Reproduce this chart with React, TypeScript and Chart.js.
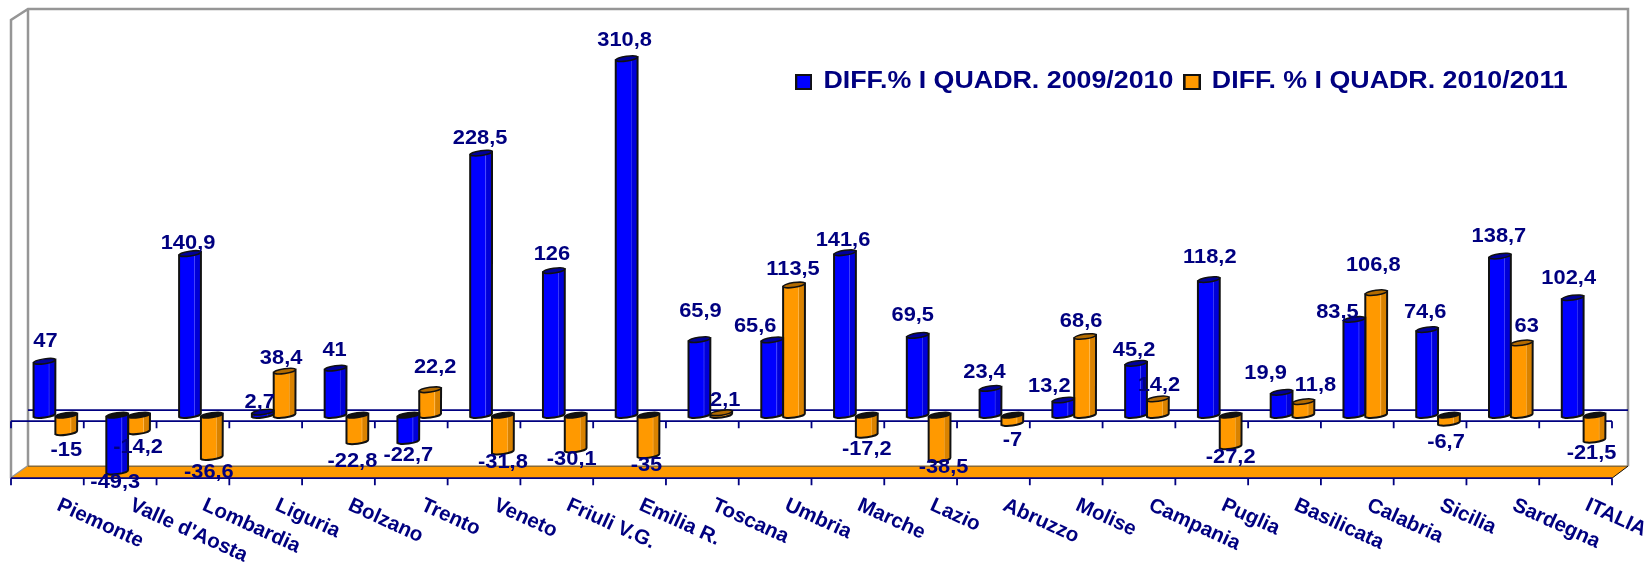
import React, { useEffect, useRef } from "react";
import { Chart, registerables, BarController, BarElement } from "chart.js";

Chart.register(...registerables);

const categories = ["Piemonte","Valle d'Aosta","Lombardia","Liguria","Bolzano","Trento","Veneto","Friuli V.G.","Emilia R.","Toscana","Umbria","Marche","Lazio","Abruzzo","Molise","Campania","Puglia","Basilicata","Calabria","Sicilia","Sardegna","ITALIA"];
const seriesNames = ["DIFF.% I QUADR. 2009/2010", "DIFF. % I QUADR. 2010/2011"];
const diff0910 = [47,-49.3,140.9,2.7,41,-22.7,228.5,126,310.8,65.9,65.6,141.6,69.5,23.4,13.2,45.2,118.2,19.9,83.5,74.6,138.7,102.4];
const diff1011 = [-15,-14.2,-36.6,38.4,-22.8,22.2,-31.8,-30.1,-35,2.1,113.5,-17.2,-38.5,-7,68.6,14.2,-27.2,11.8,106.8,-6.7,63,-21.5];

// hand-placed data label offsets from the end of each bar, as in the source chart
const labelOffsets0910 = [[1,-20],[-2,10.5],[-2,-10],[-3,-10],[-1,-18],[0,14],[-1,-15],[-2,-16],[-2,-18],[1,-28],[-17,-14],[-2,-13],[-5,-20],[-6,-16],[-14,-14],[-2,-13],[1,-22],[-16,-19],[-17,-7],[-2,-17],[-1,-20],[-4,-20]];
const labelOffsets1011 = [[0,18],[-1,16],[-3,15],[-3.5,-13],[-5,20],[5,-23],[0,10.5],[-4,10],[-2,10],[4,-12.5],[-1,-16],[0,14],[4,8],[0,17],[-4,-15],[1,-14],[0,11],[12,-16],[-3,-27],[-3,19],[5,-17],[-3,13]];
const labelOffsets = [labelOffsets0910, labelOffsets1011];

const NAVY = "#000080";
const FONT = '"Liberation Sans", Arial, sans-serif';
const LEGEND_STRETCH = 1.165;
const VALUE_STRETCH = 1.04;

const shade: Record<string, string[]> = {
  "#0000ff": ["#0000ff", "#0000d8", "#4a4aff", "#00009a"],
  "#ff9900": ["#ff9900", "#d98200", "#ffb84d", "#b36b00"],
};

class CylinderElement extends BarElement {
  static id = "cylinder";
  draw(ctx: CanvasRenderingContext2D) {
    const { x, y, base, width } = this as any;
    const color = ((this as any).options.backgroundColor as string).toLowerCase();
    const [main, side, light, cap] = shade[color];
    const l = x - width / 2, r = x + width / 2;
    const ry = 2.4, tilt = -0.14;
    const h = (width / 2) * Math.sin(-tilt);
    const up = y < base;
    const top = up ? y : base;
    const bot = up ? base : y;
    ctx.save();
    const g = ctx.createLinearGradient(l, 0, r, 0);
    g.addColorStop(0, main);
    g.addColorStop(0.68, main);
    g.addColorStop(0.7, light);
    g.addColorStop(0.75, side);
    g.addColorStop(1, side);
    ctx.beginPath();
    ctx.moveTo(l, top + h);
    ctx.lineTo(l, bot + h);
    ctx.ellipse(x, bot, width / 2, ry, tilt, Math.PI, 0, true);
    ctx.lineTo(r, top - h);
    ctx.closePath();
    ctx.fillStyle = g;
    ctx.fill();
    ctx.lineWidth = 2;
    ctx.strokeStyle = "#111";
    ctx.stroke();
    ctx.beginPath();
    ctx.ellipse(x, top, width / 2, ry, tilt, 0, Math.PI * 2);
    ctx.fillStyle = up ? cap : "#111";
    ctx.fill();
    ctx.lineWidth = 1.5;
    ctx.stroke();
    ctx.restore();
  }
}

class CylinderController extends BarController {
  static id = "cylinderBar";
  static defaults = { ...(BarController as any).defaults, dataElementType: "cylinder" };
}
Chart.register(CylinderElement as any, CylinderController as any);

function legendIcon(color: string) {
  const c = document.createElement("canvas");
  c.width = 15; c.height = 16;
  const x = c.getContext("2d")!;
  x.fillStyle = color;
  x.fillRect(0, 0, 15, 16);
  x.strokeStyle = "#111";
  x.lineWidth = 2;
  x.strokeRect(1, 1, 13, 14);
  return c;
}

const fmt = (v: number) => String(v).replace(".", ",");

const scene = {
  id: "scene",
  afterLayout(chart: any) {
    const lg = chart.legend;
    if (!lg) return;
    const w = lg.right - lg.left, h = lg.bottom - lg.top;
    const L = 785, T = 60;
    lg.left = L; lg.right = L + w; lg.top = T; lg.bottom = T + h;
    if (!lg.__wrapped) {
      lg.__wrapped = true;
      const orig = lg.draw.bind(lg);
      lg.draw = (...args: any[]) => {
        const ctx = chart.ctx;
        ctx.save();
        ctx.translate(L, 0);
        ctx.scale(LEGEND_STRETCH, 1);
        ctx.translate(-L, 0);
        orig(...args);
        ctx.restore();
      };
    }
  },
  beforeDatasetsDraw(chart: any) {
    const { ctx, scales } = chart;
    const xs = scales.x, ys = scales.y;
    const d = 8;
    const z = ys.getPixelForValue(0);
    const frontL = xs.left - d, frontR = xs.right - d;
    const backL = xs.left + d + 1, backR = xs.right + d;
    const frontZero = z + 6, backZero = z - 5;
    const frontBot = z + 63, backBot = z + 51;
    const wallTop = 9, frontTop = 20;
    ctx.save();
    ctx.strokeStyle = "#969696";
    ctx.lineWidth = 2.5;
    ctx.beginPath();
    ctx.moveTo(frontL, frontBot); ctx.lineTo(frontL, frontTop); ctx.lineTo(backL, wallTop);
    ctx.lineTo(backR, wallTop); ctx.lineTo(backR, backBot);
    ctx.moveTo(backL, wallTop); ctx.lineTo(backL, backBot);
    ctx.moveTo(frontL, frontBot); ctx.lineTo(backL, backBot);
    ctx.stroke();
    ctx.beginPath();
    ctx.moveTo(frontL, frontBot); ctx.lineTo(backL, backBot); ctx.lineTo(backR, backBot); ctx.lineTo(frontR, frontBot);
    ctx.closePath();
    ctx.fillStyle = "#ff9900";
    ctx.fill();
    ctx.strokeStyle = "#8a6a35";
    ctx.lineWidth = 1.5;
    ctx.beginPath();
    ctx.moveTo(backL, backBot); ctx.lineTo(backR, backBot);
    ctx.stroke();
    ctx.strokeStyle = "#111";
    ctx.lineWidth = 1;
    ctx.beginPath();
    ctx.moveTo(backR, backBot); ctx.lineTo(frontR, frontBot);
    ctx.stroke();
    ctx.strokeStyle = NAVY;
    ctx.lineWidth = 1.8;
    ctx.beginPath();
    ctx.moveTo(backL, backZero); ctx.lineTo(backR, backZero);
    for (const y of [frontZero, frontBot]) {
      ctx.moveTo(frontL, y); ctx.lineTo(frontR, y);
      const step = (frontR - frontL) / categories.length;
      for (let i = 0; i <= categories.length; i++) {
        ctx.moveTo(frontL + step * i, y); ctx.lineTo(frontL + step * i, y + 7);
      }
    }
    ctx.stroke();
    ctx.restore();
  },
  afterDatasetsDraw(chart: any) {
    const { ctx, scales } = chart;
    const xs = scales.x;
    ctx.save();
    ctx.fillStyle = NAVY;
    ctx.font = `bold 21px ${FONT}`;
    ctx.textAlign = "center";
    ctx.textBaseline = "middle";
    chart.data.datasets.forEach((ds: any, di: number) => {
      const meta = chart.getDatasetMeta(di);
      meta.data.forEach((el: any, i: number) => {
        const [dx, dy] = labelOffsets[di][i];
        ctx.save();
        ctx.translate(el.x + dx, el.y + dy);
        ctx.scale(VALUE_STRETCH, 1);
        ctx.fillText(fmt(ds.data[i]), 0, 0);
        ctx.restore();
      });
    });
    ctx.font = `bold 20.5px ${FONT}`;
    ctx.textAlign = "left";
    ctx.textBaseline = "top";
    xs.ticks.forEach((_: any, i: number) => {
      ctx.save();
      ctx.translate(xs.getPixelForTick(i) + 7, 495);
      ctx.rotate((24.5 * Math.PI) / 180);
      ctx.fillText(xs.getLabelForValue(i), 0, 0);
      ctx.restore();
    });
    ctx.restore();
  },
};

export default function App() {
  const ref = useRef<HTMLCanvasElement>(null);
  useEffect(() => {
    const chart = new Chart(ref.current!, {
      type: "cylinderBar" as any,
      data: {
        labels: categories,
        datasets: [
          { label: seriesNames[0], data: diff0910, backgroundColor: "#0000ff" },
          { label: seriesNames[1], data: diff1011, backgroundColor: "#ff9900" },
        ],
      },
      options: {
        responsive: false,
        animation: false,
        layout: { padding: { left: 19, right: 28, top: 0, bottom: 83 } },
        categoryPercentage: 0.6,
        barPercentage: 1,
        scales: {
          x: { type: "category", offset: true, display: false },
          y: { type: "linear", min: -60, max: 324, display: false },
        },
        plugins: {
          tooltip: { enabled: false },
          legend: {
            position: "top",
            align: "start",
            labels: {
              usePointStyle: true,
              pointStyleWidth: 11,
              color: NAVY,
              font: { family: FONT, size: 23, weight: "bold" },
              padding: 10.5,
              generateLabels: (c: any) =>
                c.data.datasets.map((ds: any, i: number) => ({
                  text: ds.label,
                  fillStyle: ds.backgroundColor,
                  strokeStyle: "#111",
                  pointStyle: legendIcon(ds.backgroundColor),
                  fontColor: NAVY,
                  datasetIndex: i,
                })),
            },
          },
        },
      } as any,
      plugins: [scene],
    });
    return () => chart.destroy();
  }, []);
  return (
    <div style={{ position: "fixed", left: 0, top: 0, width: 1648, height: 567, background: "#fff" }}>
      <canvas ref={ref} width={1648} height={567} style={{ display: "block" }} />
    </div>
  );
}
